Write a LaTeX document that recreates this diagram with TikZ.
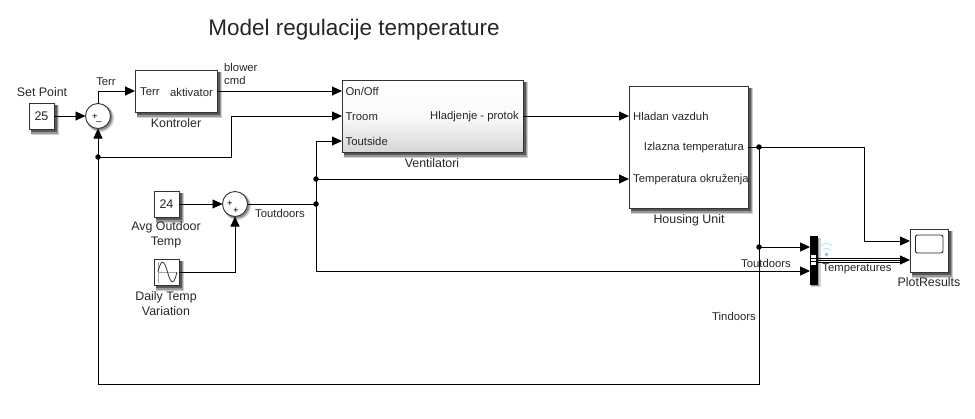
\documentclass[tikz,border=0pt]{standalone}
\usepackage{fontspec}
\setmainfont{Liberation Sans}
\usetikzlibrary{arrows.meta,calc}
\tikzset{
  x=1pt,y=-1pt,
  wire/.style={line width=0.85pt,-{Triangle[length=10pt,width=9pt]}},
  plainwire/.style={line width=0.85pt},
  jdot/.style={circle,fill=black,inner sep=0pt,minimum size=5.5pt},
  lbl/.style={inner sep=0pt,font=\fontsize{11.3}{13}\selectfont,text=black!85},
  blkname/.style={inner sep=0pt,align=center,font=\fontsize{12.4}{15}\selectfont,text=black!85},
  sgn/.style={inner sep=0pt,font=\fontsize{9.5}{9.5}\selectfont},
  blk/.style={draw=black!80,line width=0.9pt,fill=white,outer sep=0pt},
}
\newcommand{\blkbox}[6][blk]{%
  \fill[black!18] (#3+2,#4+2) rectangle (#5+5,#6+6);
  \fill[black!40] (#3+2,#4+2) rectangle (#5+4,#6+5);
  \fill[black!65] (#3+2,#4+2) rectangle (#5+2.5,#6+3);
  \node[#1,anchor=north west,inner sep=0pt,minimum width={#5-#3},minimum height={#6-#4}] (#2) at (#3,#4) {};
}
\newcommand{\sumcirc}[3]{%
  \fill[black!18] (#2+2,#3+2) circle (14);
  \fill[black!45] (#2+1.5,#3+1.5) circle (13);
  \node[blk,circle,inner sep=0pt,minimum size=25pt] (#1) at (#2,#3) {};
}
\begin{document}
\begin{tikzpicture}
\useasboundingbox (0,0) rectangle (975,418);
\node[inner sep=0pt,font=\fontsize{22.5}{26}\selectfont,text=black!85] (title) at (354,30) {Model regulacije temperature};

% blocks
\blkbox{spt}{29}{103}{54}{129}
\node[lbl,font=\fontsize{12.5}{14}\selectfont] (sptv) at (spt.center) {25};
\node[blkname] (sptn) at (42,92) {Set Point};
\sumcirc{s1}{98}{116}
\node[sgn] (s1p) at (95,116.5) {+};
\node[sgn] (s1m) at (99,121) {\_};
\blkbox{kon}{135}{70}{217}{112}
\node[blkname] (konn) at (176,123) {Kontroler};
\node[lbl,anchor=west] (konl) at (140,92) {Terr};
\node[lbl,anchor=east] (konr) at (213,92) {aktivator};

\blkbox[blk,top color=white,bottom color=black!16,middle color=white!98!black]{ven}{342}{80}{523}{152}
\node[lbl,anchor=west] (v1) at (345.5,91.5) {On/Off};
\node[lbl,anchor=west] (v2) at (345.5,116.5) {Troom};
\node[lbl,anchor=west] (v3) at (345.5,141.5) {Toutside};
\node[lbl,anchor=east] (v4) at (519,116.5) {Hladjenje - protok};
\node[blkname] (venn) at (432,163) {Ventilatori};

\blkbox{hou}{629}{86}{748}{208}
\node[lbl,anchor=west] (h1) at (633,116.5) {Hladan vazduh};
\node[lbl,anchor=east] (h2) at (744,147.5) {Izlazna temperatura};
\node[lbl,anchor=west] (h3) at (633,179.5) {Temperatura okruženja};
\node[blkname] (houn) at (689,220) {Housing Unit};

\blkbox{avg}{154}{191}{179}{217}
\node[lbl,font=\fontsize{12.5}{14}\selectfont] (avgv) at (avg.center) {24};
\node[blkname] (avgn) at (166,234.5) {Avg Outdoor\\Temp};
\sumcirc{s2}{235}{204}
\node[sgn] (s2a) at (230,204) {+};
\node[sgn] (s2b) at (236,210.5) {+};

\blkbox{sin}{154}{259}{179}{285}
\draw[black!35,line width=0.5pt] (158,262) -- (158,283) (158,272) -- (177,272);
\draw[black!80,line width=0.8pt] (158,272) .. controls (161,259) and (164,259) .. (167.5,272) .. controls (171,285) and (174,285) .. (177,272);
\node[blkname] (sinn) at (166,303.5) {Daily Temp\\Variation};

\blkbox{sco}{910}{229}{948}{272}
\draw[black!85,line width=0.9pt,rounded corners=2pt] (915.5,235) rectangle (943,253);
\node[blkname] (scon) at (929,282) {PlotResults};

\fill[black!18] (811,238) rectangle (821,287);
\fill[black!40] (811,238) rectangle (819,286);
\node[fill=black,draw=black,inner sep=0pt,outer sep=0pt,minimum width=6.5pt,minimum height=47.5pt] (mux) at (813.5,260) {};
\fill[white] (811,254.5) rectangle (816,264.5);
\draw[black,line width=0.7pt] (811,258) -- (816,258) (811,261) -- (816,261);

% wifi icon
\fill[blue!45!cyan!55!white] (826.5,254.5) circle (1.8);
\draw[blue!35!cyan!35!white,line width=0.7pt] (822.5,250) arc[start angle=-135,end angle=-45,radius=5.6];
\draw[blue!35!cyan!35!white,line width=0.7pt] (820.5,246) arc[start angle=-135,end angle=-45,radius=8.5];

% coordinates
\coordinate (c1) at (98,91);
\coordinate (kin) at (135,91);
\coordinate (kout) at (217,91);
\coordinate (von) at (342,91);
\coordinate (vtr) at (342,116);
\coordinate (vto) at (342,141);
\coordinate (vout) at (523,116);
\coordinate (hin1) at (629,116);
\coordinate (hin3) at (629,179);
\coordinate (hout) at (748,147);
\coordinate (m1) at (810,247);
\coordinate (m2) at (810,271);
\coordinate (sc1) at (910,241);
\coordinate (sc2) at (910,260);

% connectors
\node[jdot] (j1) at (98,157) {};
\node[jdot] (j2) at (316,179) {};
\node[jdot] (j3) at (316,204) {};
\node[jdot] (j4) at (759,147) {};
\node[jdot] (j5) at (759,247) {};

\draw[wire] (spt.east) -- (s1.west);
\draw[wire] (s1.north) -- (c1) -- (kin);
\draw[wire] (kout) -- (von);
\draw[wire] (j1.center) -- (231,157) -- (231,116) -- (vtr);
\draw[wire] (vout) -- (hin1);
\draw[wire] (j3.center) |- (vto);
\draw[wire] (j2.center) -- (hin3);
\draw[plainwire] (s2.east) -- (j3.center);
\draw[wire] (avg.east) -- (s2.west);
\draw[wire] (sin.east) -| (s2.south);
\draw[wire] (j3.center) |- (m2);
\draw[plainwire] (hout) -- (j4.center);
\draw[wire] (j4.center) -- (864,147) -- (864,241) -- (sc1);
\draw[wire] (j5.center) -- (m1);
\draw[wire] (j4.center) -- (759,384) -- (98,384) -- (s1.south);
% bus
\draw[plainwire] (mux.east |- 0,258) -- (904,258);
\draw[plainwire] (mux.east |- 0,262) -- (904,262);
\draw[wire] (mux.east |- sc2) -- (sc2);

% signal labels
\node[lbl] (l1) at (106,82) {Terr};
\node[lbl,align=left,anchor=north west] (l2) at (224,63.5) {blower\\cmd};
\node[lbl] (l3) at (280,213.5) {Toutdoors};
\node[lbl] (l4) at (766,263) {Toutdoors};
\node[lbl] (l5) at (857,269) {Temperatures};
\node[lbl] (l6) at (734,316) {Tindoors};
\end{tikzpicture}
\end{document}
